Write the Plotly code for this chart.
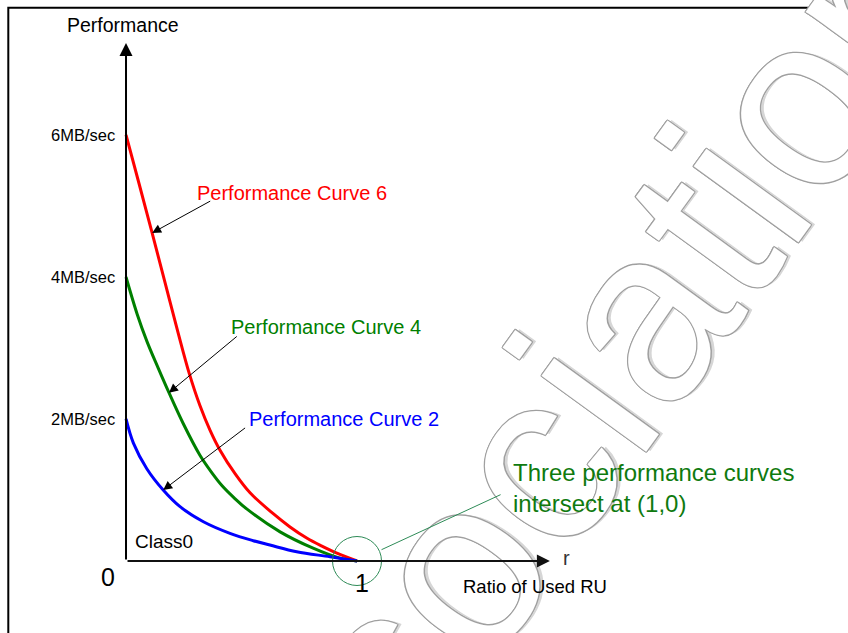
import plotly.graph_objects as go

# Ratio of used RU (r) and performance (MB/sec) sampled along each curve
r_curve6 = [0.0, 0.056, 0.113, 0.169, 0.225, 0.273, 0.320, 0.364, 0.407, 0.472, 0.537,
            0.636, 0.710, 0.784, 0.848, 0.913, 1.0]
perf_curve6 = [6.0, 5.32, 4.62, 3.92, 3.22, 2.65, 2.19, 1.84, 1.56, 1.23, 0.96,
               0.67, 0.48, 0.32, 0.21, 0.11, 0.0]

r_curve4 = [0.0, 0.048, 0.091, 0.139, 0.186, 0.247, 0.320, 0.368, 0.416, 0.468, 0.524,
            0.667, 0.810, 0.926, 1.0]
perf_curve4 = [4.0, 3.48, 3.09, 2.72, 2.37, 1.94, 1.49, 1.26, 1.06, 0.89, 0.73,
               0.41, 0.18, 0.04, 0.0]

r_curve2 = [0.0, 0.032, 0.090, 0.161, 0.234, 0.335, 0.450, 0.551, 0.623, 0.739, 0.883, 1.0]
perf_curve2 = [2.0, 1.66, 1.30, 1.00, 0.765, 0.553, 0.39, 0.286, 0.225, 0.13, 0.06, 0.0]

curve_names = ["Performance Curve 6", "Performance Curve 4", "Performance Curve 2"]
curve_colors = ["#ff0000", "#008000", "#0000ff"]

y_tick_values = [2, 4, 6]
y_tick_labels = ["2MB/sec", "4MB/sec", "6MB/sec"]
x_tick_values = [0, 1]
x_tick_labels = ["0", "1"]

FONT = "Liberation Sans, Arial, sans-serif"
SEAGREEN = "#2e8b57"

fig = go.Figure()

curves = [(r_curve6, perf_curve6), (r_curve4, perf_curve4), (r_curve2, perf_curve2)]
for (rs, vs), name, color in zip(curves, curve_names, curve_colors):
    fig.add_trace(go.Scatter(
        x=rs, y=vs, mode="lines", name=name,
        line=dict(color=color, width=3, shape="spline", smoothing=1.0),
        hoverinfo="skip", showlegend=False,
    ))

ann = []

# faint outlined watermark behind the annotations
outline = "#a0a0a0"
ann.append(dict(
    text="Association", xref="paper", yref="paper", x=0.641, y=0.293,
    xanchor="center", yanchor="middle", showarrow=False, textangle=-54,
    font=dict(family=FONT, size=245, color="#ffffff",
              shadow=(f"-1px 0px 0px {outline}, 1px 0px 0px {outline}, "
                      f"0px -1px 0px {outline}, 0px 1px 0px {outline}, "
                      f"-1px -1px 0px {outline}, 1px 1px 0px {outline}, "
                      f"-1px 1px 0px {outline}, 1px -1px 0px {outline}, "
                      "3px 3px 0px #d6d6d6")),
))

# axes drawn as arrows from the origin
ann.append(dict(x=0, y=7.296, ax=0, ay=0, xref="x", yref="y", axref="x", ayref="y",
                text="", showarrow=True, arrowhead=2, arrowsize=1.3, arrowwidth=2,
                arrowcolor="#000000"))
ann.append(dict(x=1.835, y=0, ax=0, ay=0, xref="x", yref="y", axref="x", ayref="y",
                text="", showarrow=True, arrowhead=2, arrowsize=1.3, arrowwidth=2,
                arrowcolor="#111111"))

# y tick labels
for v, lab in zip(y_tick_values, y_tick_labels):
    ann.append(dict(x=0, y=v, xref="x", yref="y", text=lab, showarrow=False,
                    xanchor="right", yanchor="middle", xshift=-9,
                    font=dict(family=FONT, size=16.5, color="#000000")))

# x tick labels
ann.append(dict(x=x_tick_values[0], y=0, xref="x", yref="y", text=x_tick_labels[0],
                showarrow=False, xanchor="center", yanchor="middle", xshift=-18, yshift=-16,
                font=dict(family=FONT, size=25, color="#000000")))
ann.append(dict(x=x_tick_values[1], y=0, xref="x", yref="y", text=x_tick_labels[1],
                showarrow=False, xanchor="center", yanchor="middle", xshift=5, yshift=-22,
                font=dict(family=FONT, size=25, color="#000000")))

# axis titles
ann.append(dict(x=0, y=7.55, xref="x", yref="y", text="Performance", showarrow=False,
                xanchor="center", yanchor="middle", xshift=-3,
                font=dict(family=FONT, size=19.5, color="#000000")))
ann.append(dict(x=1.905, y=0.04, xref="x", yref="y", text="r", showarrow=False,
                xanchor="center", yanchor="middle",
                font=dict(family=FONT, size=20, color="#333333")))
ann.append(dict(x=1.45, y=-0.366, xref="x", yref="y", text="Ratio of Used RU", showarrow=False,
                xanchor="left", yanchor="middle",
                font=dict(family=FONT, size=18.5, color="#000000")))
ann.append(dict(x=0.03, y=0.27, xref="x", yref="y", text="Class0", showarrow=False,
                xanchor="left", yanchor="middle",
                font=dict(family=FONT, size=19, color="#000000")))

# curve labels with pointer arrows to a point on each curve
label_pos = [(0.299, 5.18), (0.446, 3.30), (0.524, 2.0)]
tail_pos = [(0.371, 5.08), (0.486, 3.18), (0.522, 1.89)]
tip_index = [2, 4, 3]
for (rs, vs), name, color, (lx, ly), (tx, ty), i in zip(
        curves, curve_names, curve_colors, label_pos, tail_pos, tip_index):
    ann.append(dict(x=rs[i], y=vs[i], ax=tx, ay=ty, xref="x", yref="y", axref="x", ayref="y",
                    text="", showarrow=True, arrowhead=2, arrowsize=1.8, arrowwidth=1,
                    arrowcolor="#000000"))
    ann.append(dict(x=lx, y=ly, xref="x", yref="y", text=name, showarrow=False,
                    xanchor="left", yanchor="middle",
                    font=dict(family=FONT, size=20, color=color)))

# intersection callout
ann.append(dict(x=r_curve6[-1], y=perf_curve6[-1], ax=1.628, ay=0.944,
                xref="x", yref="y", axref="x", ayref="y", text="", showarrow=True,
                arrowhead=0, arrowwidth=1, arrowcolor=SEAGREEN, standoff=27))
ann.append(dict(x=1.667, y=1.03, xref="x", yref="y",
                text="Three performance curves<br>intersect at (1,0)", showarrow=False,
                xanchor="left", yanchor="middle", align="left",
                font=dict(family=FONT, size=24, color="#0f7a0f")))

shapes = [
    # outer frame
    dict(type="rect", xref="paper", yref="paper", x0=8.3 / 848, x1=1.05, y0=-0.05,
         y1=1 - 7.7 / 633, line=dict(color="#000000", width=2), fillcolor="rgba(0,0,0,0)"),
    # circle around the common point (1, 0)
    dict(type="circle", xref="x", yref="y", xsizemode="pixel", ysizemode="pixel",
         xanchor=r_curve6[-1], yanchor=perf_curve6[-1], x0=-24.5, x1=24.5, y0=-24.5, y1=24.5,
         line=dict(color=SEAGREEN, width=1), fillcolor="rgba(0,0,0,0)"),
]

fig.update_layout(
    width=848, height=633,
    margin=dict(l=0, r=0, t=0, b=0),
    paper_bgcolor="#ffffff", plot_bgcolor="#ffffff",
    xaxis=dict(range=[-0.5455, 3.1255], visible=False),
    yaxis=dict(range=[-1.014, 7.901], visible=False),
    annotations=ann, shapes=shapes,
)

fig.write_html("out.html")
